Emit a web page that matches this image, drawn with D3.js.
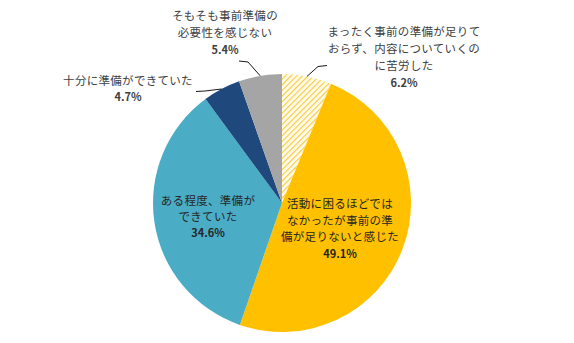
<!DOCTYPE html>
<html>
<head>
<meta charset="utf-8">
<script src="https://cdn.jsdelivr.net/npm/d3@7/dist/d3.min.js"></script>
<style>
  html, body { margin: 0; padding: 0; background: #fff; }
  svg { display: block; }
  text { font-family: "Noto Sans CJK JP", "Noto Sans", sans-serif; }
</style>
</head>
<body>
<svg id="chart" width="574" height="343"></svg>
<script>
// Survey answers, clockwise from 12 o'clock
const categories = [
  "まったく事前の準備が足りておらず、内容についていくのに苦労した",
  "活動に困るほどではなかったが事前の準備が足りないと感じた",
  "ある程度、準備ができていた",
  "十分に準備ができていた",
  "そもそも事前準備の必要性を感じない"
];
const values = [6.2, 49.1, 34.6, 4.7, 5.4];
const labelLines = [
  ["まったく事前の準備が足りて", "おらず、内容についていくの", "に苦労した"],
  ["活動に困るほどでは", "なかったが事前の準", "備が足りないと感じた"],
  ["ある程度、準備が", "できていた"],
  ["十分に準備ができていた"],
  ["そもそも事前準備の", "必要性を感じない"]
];
const valueLabels = ["6.2%", "49.1%", "34.6%", "4.7%", "5.4%"];

const svg = d3.select("#chart");
const cx = 282, cy = 203, r = 129;

// diagonal hatch for the first slice
const defs = svg.append("defs");
const pat = defs.append("pattern")
  .attr("id", "hatch")
  .attr("patternUnits", "userSpaceOnUse")
  .attr("width", 4).attr("height", 4)
  .attr("patternTransform", "rotate(45)");
pat.append("rect").attr("width", 4).attr("height", 4).attr("fill", "#fffbe8");
pat.append("line").attr("x1", 0).attr("y1", 0).attr("x2", 0).attr("y2", 4)
  .attr("stroke", "#f7c842").attr("stroke-width", 2.2);

const fills = ["url(#hatch)", "#ffc000", "#4bacc6", "#1f497d", "#a5a5a5"];

const pie = d3.pie().value(d => d).sort(null);
const arcs = pie(values);
const arc = d3.arc().innerRadius(0).outerRadius(r);

const g = svg.append("g").attr("transform", `translate(${cx},${cy})`);
g.selectAll("path.slice")
  .data(arcs)
  .join("path")
  .attr("class", "slice")
  .attr("d", arc)
  .attr("fill", (d, i) => fills[i])
  .attr("stroke", "none");

// label layout: text center and first line baseline, plus leader elbow for outside labels
const layout = [
  { x: 404, y: 36, lh: 17, leader: [327, 65.5] },
  { x: 340, y: 208, lh: 16.5 },
  { x: 208, y: 205, lh: 15.8 },
  { x: 128, y: 85, lh: 16, leader: [196, 91.5] },
  { x: 225, y: 20, lh: 17, leader: [239, 61] }
];

const edge = d3.arc().innerRadius(r).outerRadius(r);

arcs.forEach((a, i) => {
  const L = layout[i];
  if (L.leader) {
    const [ex, ey] = edge.centroid(a);
    const px = cx + ex, py = cy + ey;
    const lx = L.leader[0], ly = L.leader[1];
    const dir = lx > px ? -1 : 1;
    svg.append("path")
      .attr("d", `M${lx},${ly} L${lx + dir * 9},${ly + (i === 3 ? -0.5 : 1)} L${px},${py}`)
      .attr("fill", "none")
      .attr("stroke", "#1a1a1a")
      .attr("stroke-width", 1);
  }
  const t = svg.append("text")
    .attr("text-anchor", "middle")
    .attr("font-size", 11.5)
    .attr("fill", i === 1 || i === 2 ? "#262626" : "#404040");
  labelLines[i].forEach((line, k) => {
    t.append("tspan")
      .attr("x", L.x)
      .attr("y", L.y + k * L.lh)
      .attr("letter-spacing", 0.3)
      .text(line);
  });
  t.append("tspan")
    .attr("x", L.x)
    .attr("y", L.y + labelLines[i].length * L.lh)
    .attr("font-weight", "bold")
    .attr("font-size", 11)
    .text(valueLabels[i]);
});
</script>
</body>
</html>
